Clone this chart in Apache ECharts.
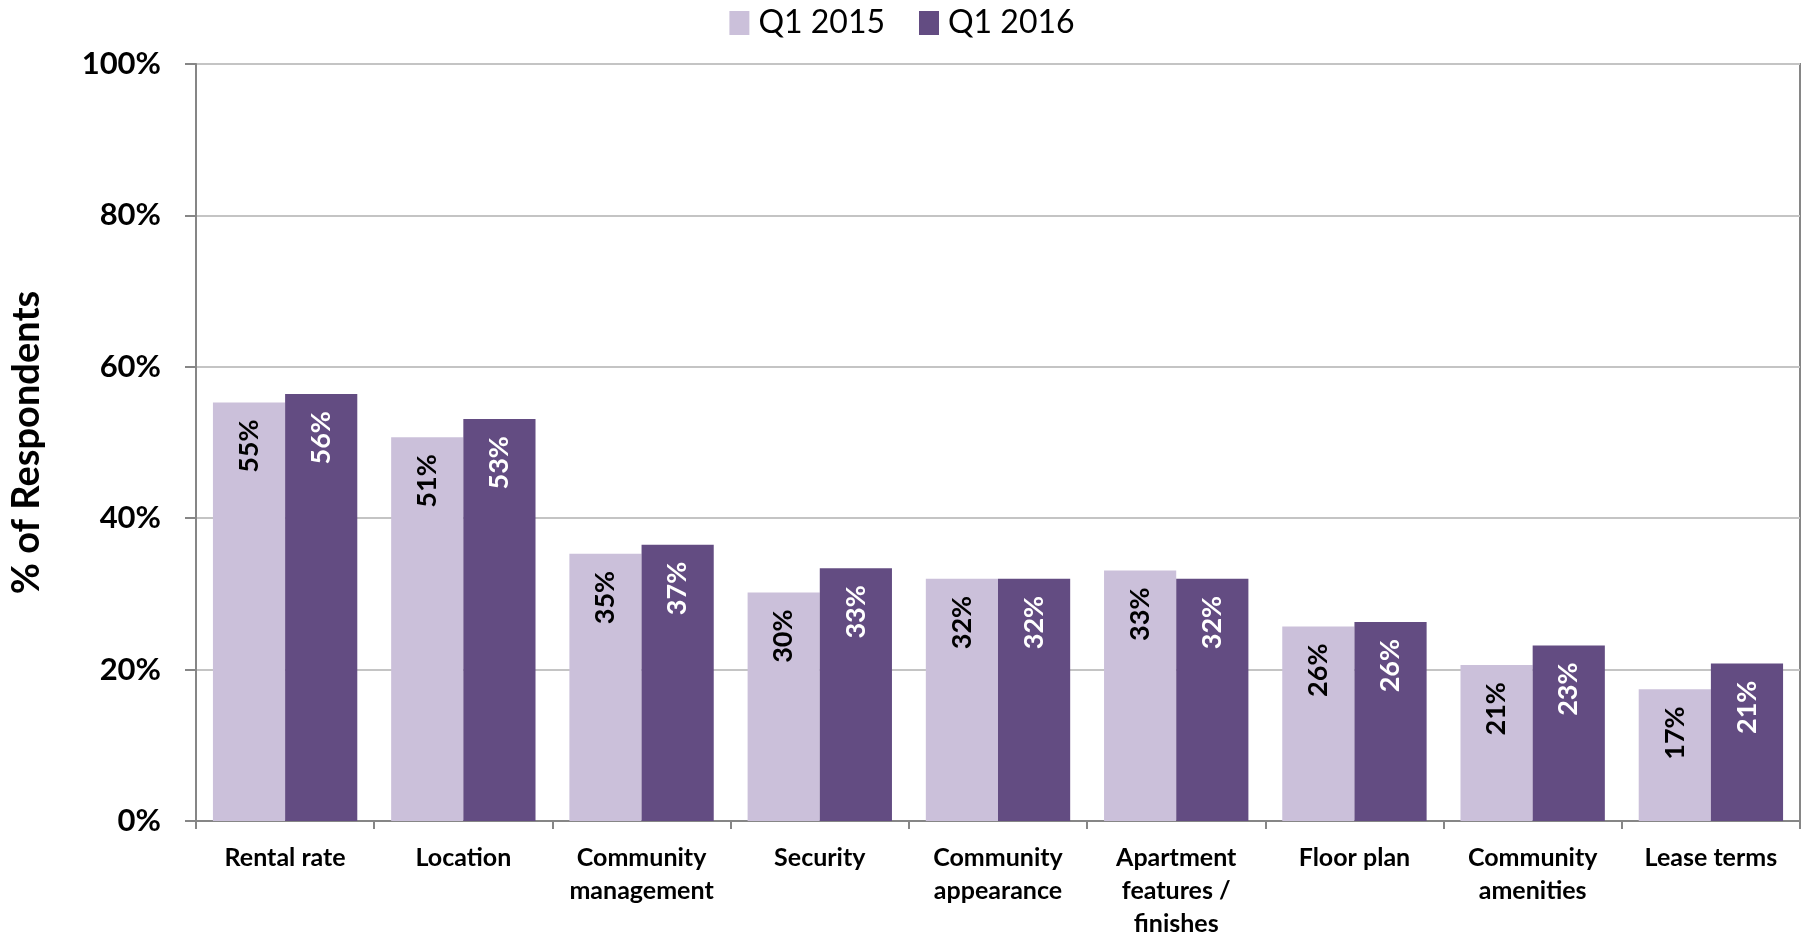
<!DOCTYPE html>
<html>
<head>
<meta charset="utf-8">
<script src="https://cdn.jsdelivr.net/npm/echarts@6/dist/echarts.min.js"></script>
<style>
  html, body { margin: 0; padding: 0; background: #fff; }
  #chart { width: 1804px; height: 940px; }
</style>
</head>
<body>
<div id="chart"></div>
<script>
// categories and values
const categories = ['Rental rate', 'Location', 'Community\nmanagement', 'Security', 'Community\nappearance',
    'Apartment\nfeatures /\nfinishes', 'Floor plan', 'Community\namenities', 'Lease terms'];
const q12015 = [55.3, 50.7, 35.3, 30.2, 32.0, 33.1, 25.7, 20.6, 17.4];
const q12016 = [56.4, 53.1, 36.5, 33.4, 32.0, 32.0, 26.3, 23.2, 20.8];
const seriesNames = ['Q1 2015', 'Q1 2016'];

const FONT = 'Lato, "Open Sans", sans-serif';

const myChart = echarts.init(document.getElementById('chart'));

// label inside top of the bar, rotated to read bottom-to-top
const barLabel = (color) => ({
    show: true,
    position: 'insideTop',
    rotate: 90,
    align: 'right',
    verticalAlign: 'middle',
    distance: 17,
    color: color,
    fontFamily: FONT,
    fontWeight: 'bold',
    fontSize: 27,
    formatter: (p) => Math.round(p.value) + '%'
});

const option = {
    animation: false,
    backgroundColor: '#fff',
    legend: {
        top: 2,
        left: 'center',
        itemWidth: 20,
        itemHeight: 24,
        itemGap: 34,
        icon: 'rect',
        textStyle: { fontFamily: FONT, fontSize: 32, color: '#000', padding: [0, 0, 0, 4] },
        data: seriesNames
    },
    grid: {
        left: 193,
        right: 4,
        top: 64,
        bottom: 111,
        containLabel: false,
        show: true,
        borderColor: '#868686',
        borderWidth: 2
    },
    xAxis: {
        type: 'category',
        data: categories,
        axisLine: { lineStyle: { color: '#868686', width: 2 } },
        axisTick: { show: true, length: 8, lineStyle: { color: '#868686', width: 2 } },
        axisLabel: {
            margin: 20,
            interval: 0,
            color: '#000',
            fontFamily: FONT,
            fontWeight: 'bold',
            fontSize: 25,
            lineHeight: 33
        }
    },
    yAxis: {
        type: 'value',
        min: 0,
        max: 100,
        interval: 20,
        name: '% of Respondents',
        nameLocation: 'middle',
        nameGap: 150,
        nameTextStyle: { fontFamily: FONT, fontWeight: 'bold', fontSize: 38, color: '#000' },
        axisLine: { show: true, lineStyle: { color: '#868686', width: 2 } },
        axisTick: { show: true, length: 11, lineStyle: { color: '#868686', width: 2 } },
        axisLabel: {
            margin: 35,
            color: '#000',
            fontFamily: FONT,
            fontWeight: 'bold',
            fontSize: 31,
            formatter: '{value}%'
        },
        splitLine: { lineStyle: { color: '#C4C4C4', width: 2 } }
    },
    series: [
        {
            name: seriesNames[0],
            type: 'bar',
            data: q12015,
            barGap: '0%',
            barCategoryGap: '19%',
            itemStyle: { color: '#CBC0DA' },
            label: barLabel('#000')
        },
        {
            name: seriesNames[1],
            type: 'bar',
            data: q12016,
            itemStyle: { color: '#634C82' },
            label: barLabel('#fff')
        }
    ]
};

myChart.setOption(option);
</script>
</body>
</html>
